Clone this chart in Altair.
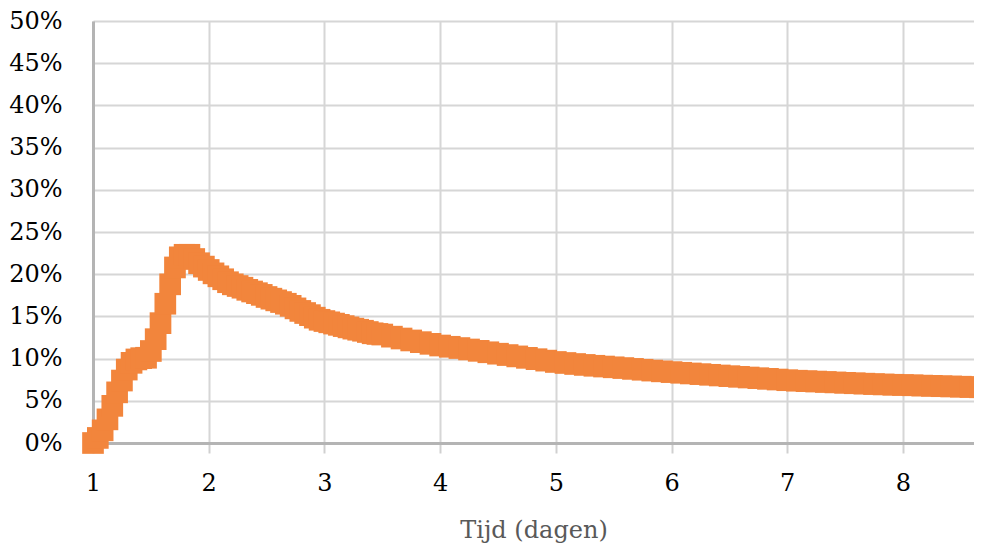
import altair as alt
import pandas as pd

# sampling grid (hours after day 1): hourly first, then every 2 hours
hours = list(range(0, 60)) + list(range(60, 185, 2))

pct_hourly = [
    0.0, 0.6, 1.5, 2.8, 4.4, 6.0, 7.4, 8.7, 9.5, 9.9,
    10.05, 10.1, 10.9, 12.3, 14.2, 16.5, 18.8, 20.8, 22.0, 22.3,
    22.3, 21.8, 21.3, 20.9, 20.5, 20.1, 19.75, 19.4, 19.05, 18.8,
    18.6, 18.4, 18.15, 17.95, 17.75, 17.55, 17.3, 17.1, 16.9, 16.7,
    16.5, 16.25, 15.95, 15.65, 15.4, 15.15, 14.85, 14.6, 14.45, 14.3,
    14.15, 14.0, 13.85, 13.7, 13.55, 13.42, 13.3, 13.15, 13.0, 12.92,
]
pct_2hourly = [
    12.85, 12.6, 12.38, 12.15, 11.95, 11.75, 11.55, 11.4, 11.25, 11.08,
    10.92, 10.75, 10.58, 10.42, 10.26, 10.09, 9.93, 9.76, 9.6, 9.48,
    9.36, 9.25, 9.15, 9.06, 8.97, 8.88, 8.78, 8.68, 8.58, 8.49,
    8.4, 8.32, 8.24, 8.16, 8.08, 8.0, 7.92, 7.84, 7.76, 7.68,
    7.6, 7.52, 7.44, 7.38, 7.33, 7.28, 7.23, 7.18, 7.13, 7.08,
    7.03, 6.98, 6.94, 6.9, 6.87, 6.84, 6.8, 6.77, 6.73, 6.7,
    6.67, 6.63, 6.6,
]
pct = pct_hourly + pct_2hourly

x_ticks = [1, 2, 3, 4, 5, 6, 7, 8]
y_ticks = [0, 0.05, 0.10, 0.15, 0.20, 0.25, 0.30, 0.35, 0.40, 0.45, 0.50]

df = pd.DataFrame({
    "dag": [1 + h / 24 for h in hours],
    "aandeel": [p / 100 for p in pct],
})

FONT = "DejaVu Serif"
GRID = "#d6d6d6"
DOMAIN = "#b4b4b4"

chart = alt.Chart(df).mark_square(
    size=470, color="#F2853C", opacity=1, clip=False, strokeWidth=0
).encode(
    x=alt.X(
        "dag:Q",
        scale=alt.Scale(domain=[1, 8.614], nice=False, zero=False),
        axis=alt.Axis(
            values=x_ticks, format="d", title="Tijd (dagen)",
            grid=True, gridColor=GRID, gridWidth=2,
            domainColor=DOMAIN, domainWidth=3,
            ticks=True, tickColor="#d0d0d0", tickSize=10, tickWidth=2,
            labelFont=FONT, labelFontSize=24, labelColor="#000000", labelPadding=18,
            labelFlush=False,
            titleFont=FONT, titleFontSize=24, titleColor="#595959",
            titleFontWeight="normal", titleY=94, titleBaseline="alphabetic",
        ),
    ),
    y=alt.Y(
        "aandeel:Q",
        scale=alt.Scale(domain=[0, 0.5], nice=False),
        axis=alt.Axis(
            values=y_ticks, format=".0%", title=None,
            grid=True, gridColor=GRID, gridWidth=2,
            domainColor=DOMAIN, domainWidth=3,
            ticks=False, labelPadding=31, labelFlush=False,
            labelFont=FONT, labelFontSize=24, labelColor="#000000",
        ),
    ),
).properties(
    width=881, height=422,
    padding={"left": 85, "top": 13, "right": 0, "bottom": 106},
    autosize=alt.AutoSizeParams(type="none"),
    background="#ffffff",
).configure_view(stroke=None)

chart.save("out.html", embed_options={"renderer": "svg", "actions": False})
